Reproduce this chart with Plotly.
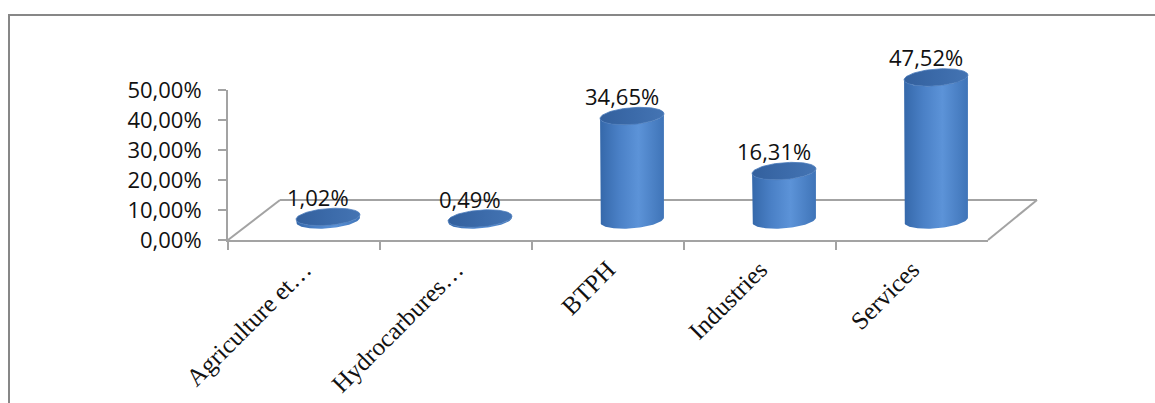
import numpy as np
import plotly.graph_objects as go

# ---- data ----
categories = ["Agriculture et…", "Hydrocarbures…", "BTPH", "Industries", "Services"]
values = [1.02, 0.49, 34.65, 16.31, 47.52]
y_tick_vals = [0, 10, 20, 30, 40, 50]
y_tick_text = ["0,00%", "10,00%", "20,00%", "30,00%", "40,00%", "50,00%"]

# ---- style / layout constants ----
W, H = 1155, 403
X0, X1 = 228, 988          # front floor edge (px)
Y0, Y50 = 240, 90          # 0% and 50% on the value axis (px)
DX, DY = 24, 20            # half-depth offset for bars (px)
PX_PER_UNIT = (Y0 - Y50) / 50.0
HALF_W = 0.21              # cylinder half width (category units)
RY = 2.8                   # ellipse vertical radius (value units)
TILT = 0.8                 # slight perspective tilt of ellipses (value units)
GRAY = "#a3a3a3"

fig = go.Figure()

theta = np.linspace(0, np.pi, 60)
for i, v in enumerate(values):
    cx = i
    bx = np.concatenate([[cx - HALF_W], cx - HALF_W * np.cos(theta), [cx + HALF_W],
                         cx + HALF_W * np.cos(theta)])
    by = np.concatenate([[v], 0 - RY * np.sin(theta), [v], v - RY * np.sin(theta)])
    by = by + TILT * (bx - cx) / HALF_W
    fig.add_trace(go.Scatter(
        x=bx, y=by, xaxis="x2", yaxis="y2", mode="lines", fill="toself",
        line=dict(width=0, color="#3a6cad"),
        fillgradient=dict(type="horizontal",
                          colorscale=[[0, "#3568aa"], [0.3, "#4a80c6"], [0.6, "#5c93d8"], [1, "#3f74b8"]]),
        hoverinfo="skip", showlegend=False))
    t = np.linspace(0, 2 * np.pi, 100)
    ex = cx + HALF_W * np.cos(t)
    ey = v + RY * np.sin(t) + TILT * np.cos(t)
    fig.add_trace(go.Scatter(
        x=ex, y=ey, xaxis="x2", yaxis="y2", mode="lines", fill="toself",
        line=dict(width=0.8, color="#4a7bbb"),
        fillgradient=dict(type="horizontal",
                          colorscale=[[0, "#33609d"], [0.5, "#3b6aa9"], [1, "#4474b3"]]),
        hoverinfo="skip", showlegend=False))
    fig.add_annotation(x=cx, y=v, xref="x2", yref="y2",
                       text=f"{v:.2f}".replace(".", ",") + "%", showarrow=False,
                       yanchor="middle", yshift=20, xshift=-10,
                       font=dict(family="Open Sans", size=22, color="#111111"))

# dummy trace to create category axis
fig.add_trace(go.Scatter(x=categories, y=[None] * len(categories), xaxis="x", yaxis="y",
                         mode="markers", showlegend=False, hoverinfo="skip"))

# floor (3D perspective) in paper coordinates so it is not clipped
def px(xp):
    return xp / W


def py(yp):
    return (H - yp) / H


BACK_Y = Y0 - 2 * DY
BACK_L = X0 + 2 * DX + 4
BACK_R = X1 + 2 * DX + 1
floor_line = dict(color=GRAY, width=2)
fig.add_shape(type="line", xref="paper", yref="paper", x0=px(X0), y0=py(Y0), x1=px(BACK_L), y1=py(BACK_Y),
              line=floor_line, layer="below")
fig.add_shape(type="line", xref="paper", yref="paper", x0=px(BACK_L), y0=py(BACK_Y), x1=px(BACK_R), y1=py(BACK_Y),
              line=floor_line, layer="below")
fig.add_shape(type="line", xref="paper", yref="paper", x0=px(X1), y0=py(Y0), x1=px(BACK_R), y1=py(BACK_Y),
              line=floor_line, layer="below")

# outer frame
fig.add_shape(type="rect", xref="paper", yref="paper", x0=px(9), x1=1.02, y0=-0.05, y1=py(15),
              line=dict(color="#878787", width=2), fillcolor="rgba(0,0,0,0)", layer="below")

fig.update_layout(
    width=W, height=H, margin=dict(l=0, r=0, t=0, b=0, pad=0),
    paper_bgcolor="white", plot_bgcolor="rgba(0,0,0,0)",
    xaxis=dict(domain=[X0 / W, X1 / W], type="category", range=[-0.5, 4.5], anchor="y",
               tickson="boundaries", ticks="outside", ticklen=8, tickcolor=GRAY, tickwidth=2,
               showline=True, linecolor=GRAY, linewidth=2, showgrid=False, zeroline=False,
               tickangle=-45, tickfont=dict(family="Liberation Serif", size=25, color="#111111"),
               ticklabelstandoff=3, automargin=False, fixedrange=True),
    yaxis=dict(domain=[(H - Y0) / H, (H - Y50) / H], range=[0, 50], anchor="x",
               tickvals=y_tick_vals, ticktext=y_tick_text, ticks="outside", ticklen=8,
               tickcolor=GRAY, tickwidth=2, showline=True, linecolor=GRAY, linewidth=2,
               showgrid=False, zeroline=False, ticklabelstandoff=12, automargin=False,
               tickfont=dict(family="Open Sans", size=22, color="#111111")),
    xaxis2=dict(domain=[(X0 + DX) / W, (X1 + DX) / W], range=[-0.5, 4.5], anchor="y2",
                visible=False, automargin=False),
    yaxis2=dict(domain=[(H - Y0) / H, 1], range=[-DY / PX_PER_UNIT, (Y0 - DY) / PX_PER_UNIT],
                anchor="x2", visible=False, automargin=False),
)

fig.write_html("out.html")
